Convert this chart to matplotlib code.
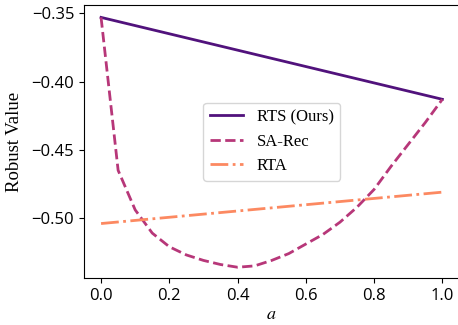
import matplotlib
matplotlib.use('Agg')
import matplotlib.pyplot as plt
import seaborn as sns
import numpy as np

a_rts = [0.0, 1.0]
rts = [-0.353, -0.413]

a_sa = [0.0, 0.05, 0.1, 0.15, 0.2, 0.25, 0.3, 0.35, 0.4, 0.45, 0.5,
        0.55, 0.6, 0.65, 0.7, 0.75, 0.8, 0.85, 0.9, 0.95, 1.0]
sa_rec = [-0.353, -0.465, -0.494, -0.511, -0.521, -0.527, -0.531, -0.534,
          -0.536, -0.535, -0.531, -0.526, -0.519, -0.512, -0.503, -0.492,
          -0.479, -0.462, -0.446, -0.430, -0.413]

a_rta = [0.0, 1.0]
rta = [-0.504, -0.481]

colors = sns.color_palette('magma', 3)
plt.rcParams['mathtext.fontset'] = 'stix'

fig = plt.figure(figsize=(4.58, 3.25), dpi=100)
ax = fig.add_axes([0.1834, 0.1437, 0.8197, 0.841])

ax.plot(a_rts, rts, '-', color=colors[0], lw=2, label='RTS (Ours)')
ax.plot(a_sa, sa_rec, '--', color=colors[1], lw=2, label='SA-Rec')
ax.plot(a_rta, rta, '-.', color=colors[2], lw=2, label='RTA')

ax.set_xlim(-0.05, 1.05)
ax.set_ylim(-0.5441, -0.3439)
ax.set_yticks([-0.35, -0.40, -0.45, -0.50])
ax.set_xticks([0.0, 0.2, 0.4, 0.6, 0.8, 1.0])

for lab in ax.get_xticklabels() + ax.get_yticklabels():
    lab.set_fontfamily('Open Sans')
    lab.set_fontsize(12)

ax.set_xlabel('$a$', fontsize=13, labelpad=1)
ax.set_ylabel('Robust Value', fontsize=13.5, family='Liberation Serif', labelpad=6)

ax.legend(loc='center', prop={'family': 'Liberation Serif', 'size': 12})

plt.savefig('out.png')
